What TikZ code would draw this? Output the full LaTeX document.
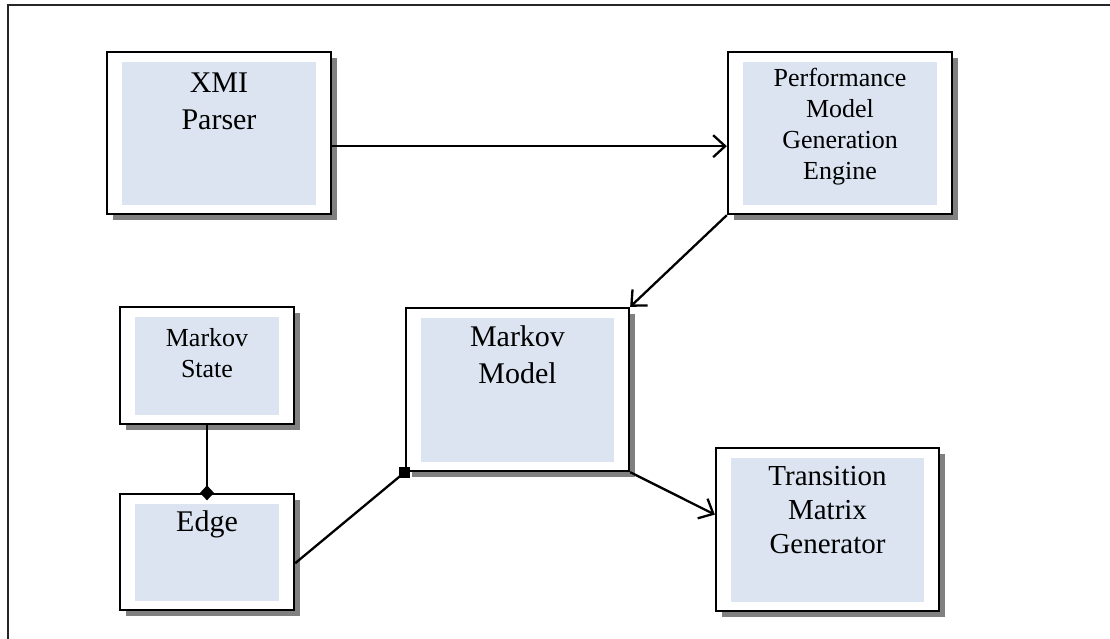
\documentclass[tikz,border=0pt]{standalone}
\usepackage{fontspec}
\setmainfont{Liberation Serif}
\usetikzlibrary{arrows.meta,calc,shadows}
\definecolor{boxfill}{HTML}{DBE4F0}
\definecolor{shade}{HTML}{808080}
\tikzset{
  block/.style={draw=black, line width=2.3pt, fill=white, inner sep=0pt,
    drop shadow={shadow xshift=6pt, shadow yshift=-6pt, fill=shade, opacity=1}},
  panel/.style={fill=boxfill},
  blocktext/.style={anchor=north, align=center, inner sep=0pt, text=black},
  bigtext/.style={font=\fontsize{30}{37}\selectfont},
  midtext/.style={font=\fontsize{29}{34}\selectfont},
  smalltext/.style={font=\fontsize{26}{31}\selectfont},
  wire/.style={line width=2.3pt, draw=black},
  arrowto/.style={wire, -{Straight Barb[length=12pt,width=22pt,line width=2.3pt]}},
  frameline/.style={line width=2.2pt, draw=black!85},
}
\begin{document}
\begin{tikzpicture}[x=1pt,y=-1pt]
\useasboundingbox (0,0) rectangle (1110,638);

% outer frame (top and left edges)
\draw[frameline] (1115,5) -- (8,5) -- (8,645);

% blocks
\node[block, minimum width=224pt, minimum height=162pt] (xmi) at (219,133) {};
\node[block, minimum width=224pt, minimum height=162pt] (perf) at (840,133) {};
\node[block, minimum width=174pt, minimum height=117pt] (mstate) at (207,365.5) {};
\node[block, minimum width=174pt, minimum height=116pt] (edge) at (207,552) {};
\node[block, minimum width=223pt, minimum height=163pt] (mmodel) at (517.5,389.5) {};
\node[block, minimum width=223pt, minimum height=163pt] (tmg) at (827.5,529.5) {};

% inner shaded panels
\foreach \b in {xmi,perf,mstate,edge,mmodel,tmg}{
  \fill[panel] ($(\b.north west)+(16,11)$) rectangle ($(\b.south east)+(-16,-10)$);
}

% block captions
\node[blocktext, bigtext] (xmiT) at ($(xmi.north)+(0,22)$) {XMI\\Parser};
\node[blocktext, smalltext] (perfT) at ($(perf.north)+(0,17)$) {Performance\\Model\\Generation\\Engine};
\node[blocktext, smalltext] (mstateT) at ($(mstate.north)+(0,22)$) {Markov\\State};
\node[blocktext, bigtext] (edgeT) at ($(edge.north)+(0,18)$) {Edge};
\node[blocktext, bigtext] (mmodelT) at ($(mmodel.north)+(0,19)$) {Markov\\Model};
\node[blocktext, midtext] (tmgT) at ($(tmg.north)+(0,19)$) {Transition\\Matrix\\Generator};

% connectors
\coordinate (xmiOut) at ($(xmi.north east)!0.58!(xmi.south east)$);
\draw[arrowto] (xmiOut) -- (xmiOut -| perf.west);
\draw[arrowto] (perf.south west) -- (mmodel.north east);
\coordinate (tmgIn) at ($(tmg.north west)!0.41!(tmg.south west)$);
\draw[arrowto] (mmodel.south east) -- (tmgIn);
\coordinate (edgeOut) at ($(edge.north east)!0.595!(edge.south east)$);
\draw[wire] (edgeOut) -- (mmodel.south west);
\fill[black] ($(mmodel.south west)+(-5.5,-5.5)$) rectangle ($(mmodel.south west)+(5.5,5.5)$);
\draw[wire, -{Diamond[length=15pt,width=14pt]}, shorten >=-7.5pt] (mstate.south) -- (edge.north);
\end{tikzpicture}
\end{document}
